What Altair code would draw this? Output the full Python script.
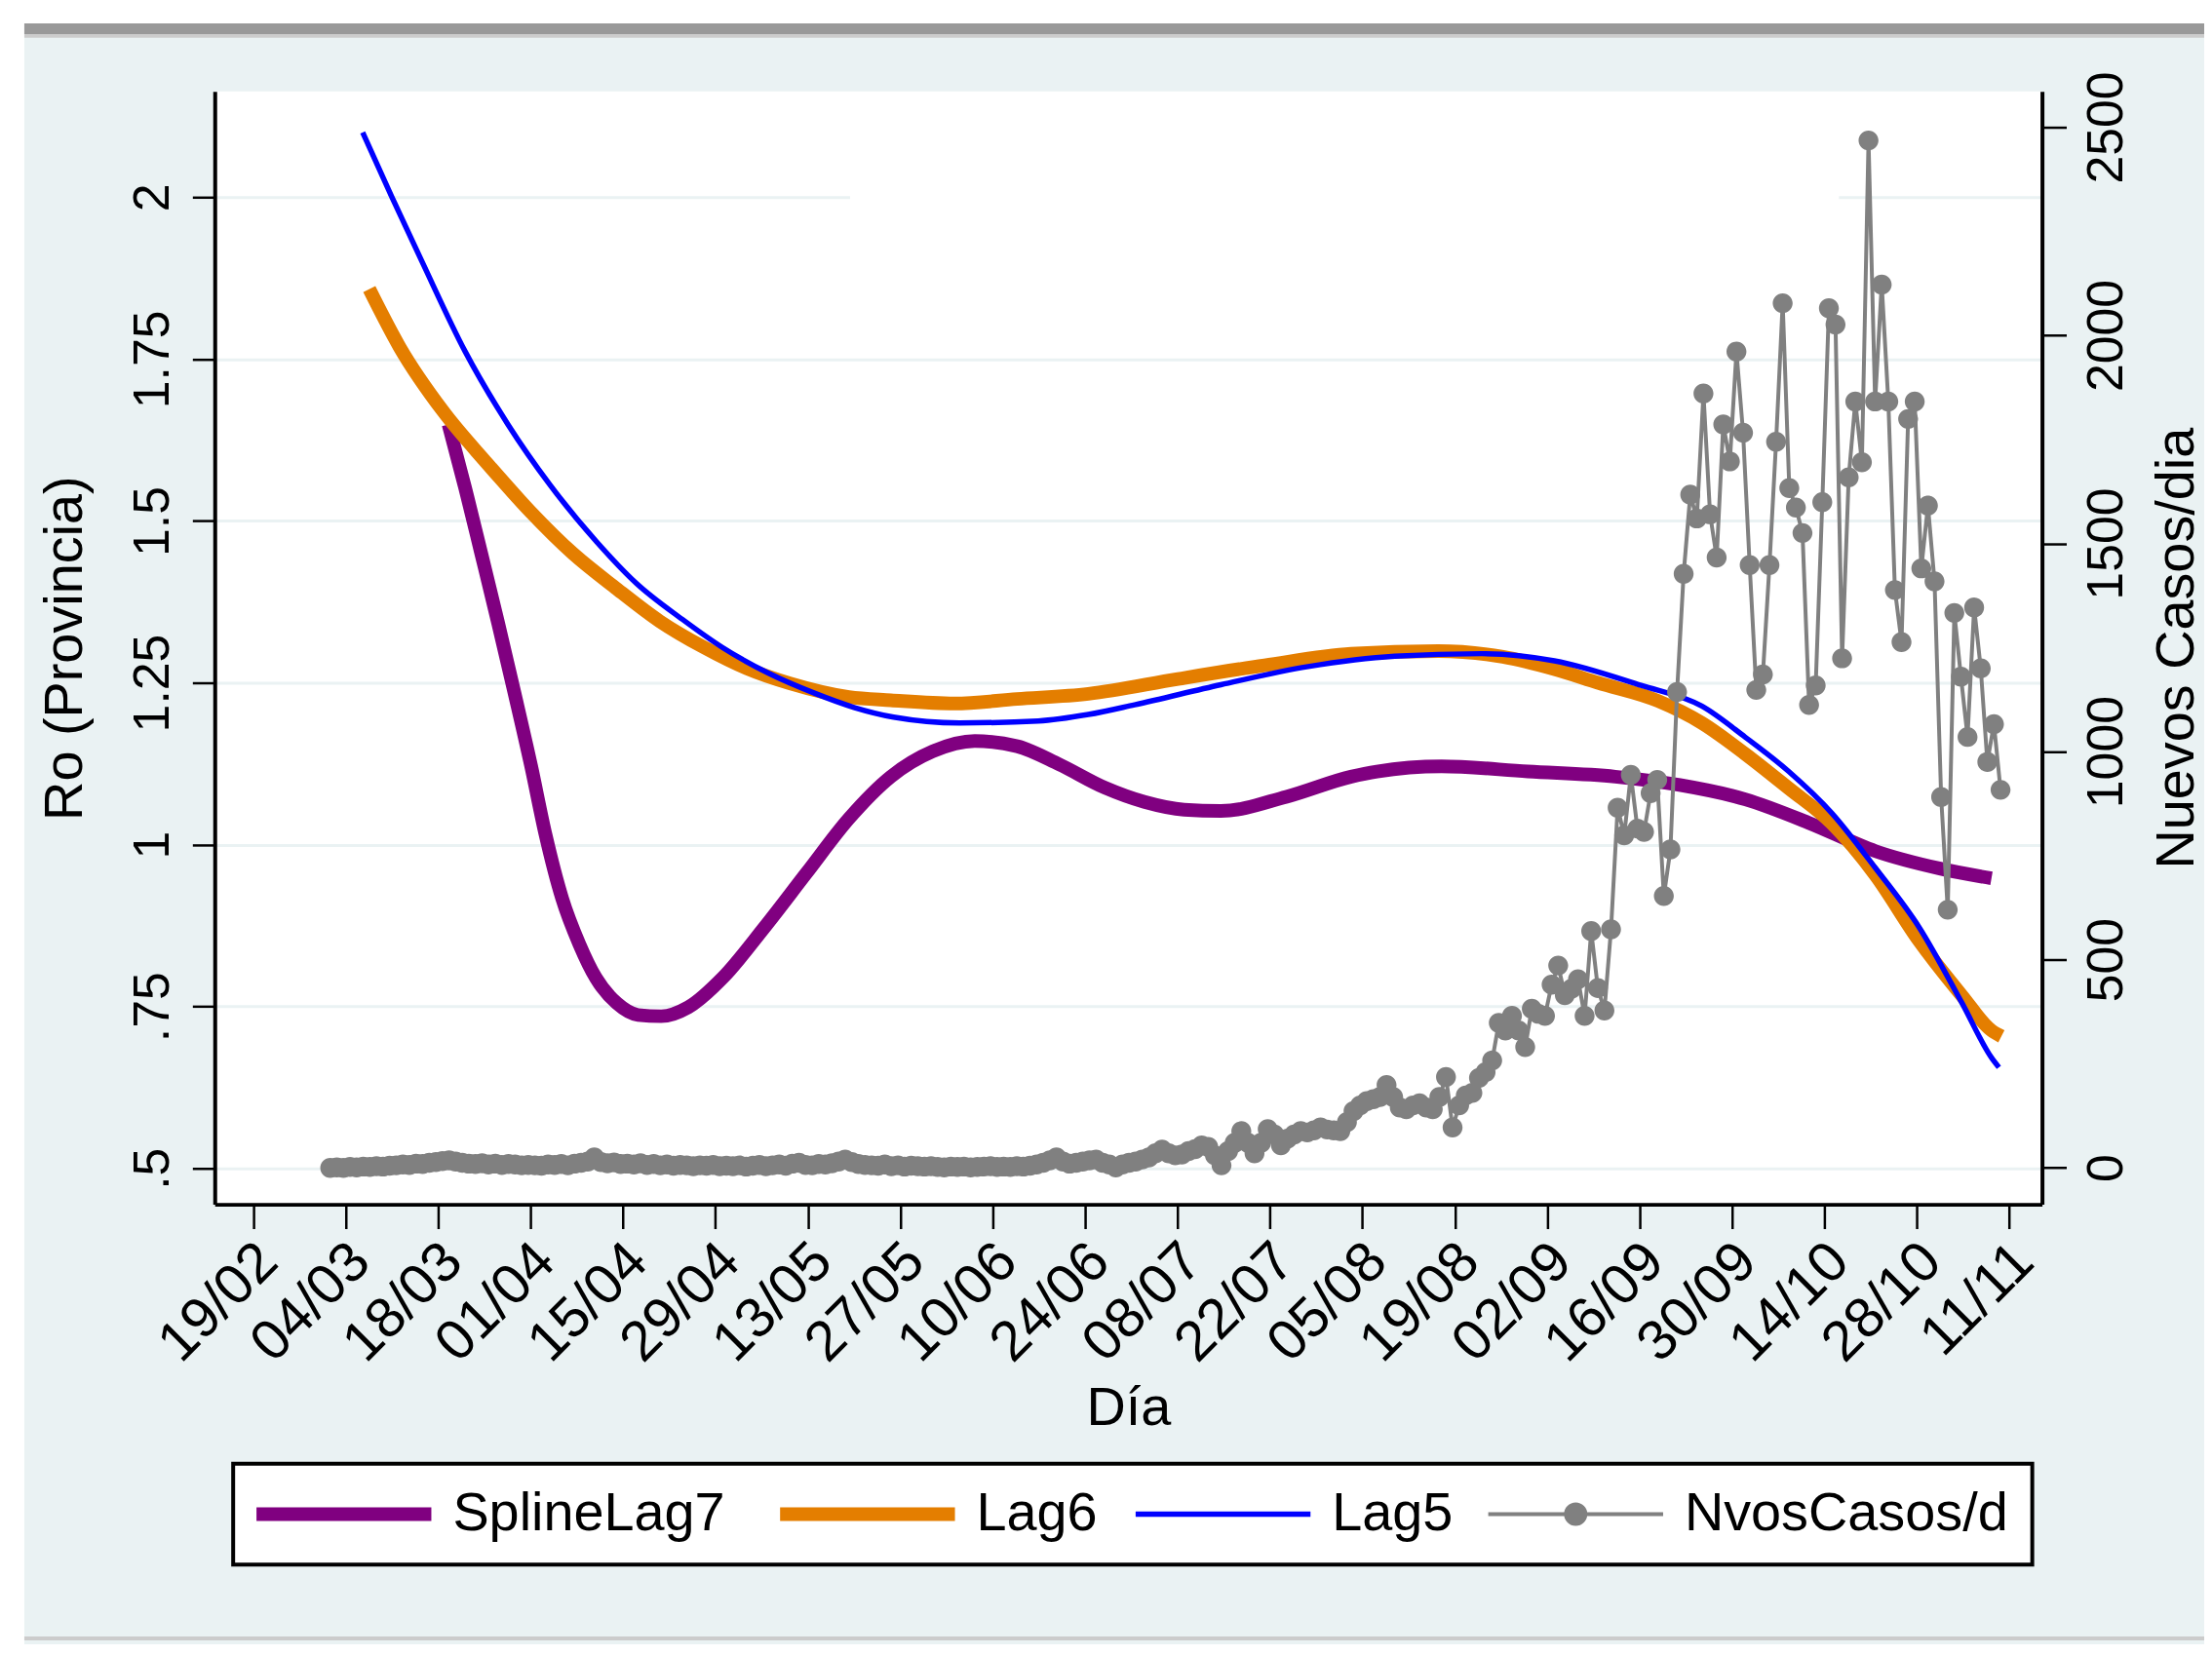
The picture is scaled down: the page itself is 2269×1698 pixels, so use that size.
import altair as alt
import pandas as pd

# ---------------- data ----------------
serie_nombres = ["SplineLag7", "Lag6", "Lag5", "NvosCasos/d"]
serie_colores = ["#800080", "#E47E00", "#0000FF", "#808080"]
serie_grosor = [14, 14, 5.5, 4]

# daily new cases, one value per day starting at casos_inicio
casos_inicio = "2020-03-01T16:00:00"
casos_mar = [0, 1, 0, 2, 1, 3, 2, 4, 3, 5, 6, 8, 7, 10, 9, 12, 14, 16, 18, 15, 12, 10, 9, 11, 8, 10, 7, 9, 8, 6, 7]
casos_abr = [6, 5, 8, 7, 9, 6, 10, 12, 15, 25, 14, 11, 13, 9, 10, 8, 11, 7, 9, 6, 8, 5, 7, 6, 4, 6, 5, 7, 4, 5]
casos_may = [4, 6, 3, 5, 7, 4, 6, 8, 5, 10, 12, 7, 6, 9, 8, 11, 15, 20, 14, 9, 7, 6, 5, 8, 4, 6, 3, 5, 4, 3, 4]
casos_jun = [2, 1, 3, 2, 3, 1, 2, 3, 4, 2, 3, 2, 4, 3, 5, 8, 12, 18, 25, 15, 10, 12, 15, 18, 20, 12, 8, 1, 8, 12]
casos_jul = [15, 20, 25, 35, 44, 35, 30, 32, 40, 45, 54, 50, 30, 6, 40, 60, 88, 60, 35, 60, 93, 80, 54, 70, 80, 88, 85, 90, 97, 92, 90]
casos_ago = [88, 110, 136, 150, 160, 165, 170, 199, 170, 145, 141, 150, 155, 145, 141, 170, 218, 97, 150, 174, 180, 216, 230, 258, 348, 330, 365, 330, 290, 382, 370]
casos_sep = [365, 440, 486, 415, 430, 453, 365, 569, 432, 378, 573, 865, 799, 944, 815, 807, 900, 932, 653, 765, 1143, 1427, 1617, 1560, 1860, 1570, 1466, 1786, 1697, 1961]
casos_oct = [1766, 1448, 1148, 1185, 1448, 1744, 2077, 1633, 1586, 1525, 1112, 1159, 1599, 2065, 2026, 1224, 1659, 1841, 1695, 2468, 1841, 2122, 1841, 1388, 1263, 1799, 1841, 1440, 1591, 1409, 891]
casos_nov = [620, 1333, 1180, 1035, 1346, 1200, 975, 1066, 908]

lag5_fechas = ["2020-03-06T14", "2020-03-10T22", "2020-03-15T12", "2020-03-22T02", "2020-03-28T14", "2020-04-04T00",
               "2020-04-11T00", "2020-04-17T00", "2020-04-24T00", "2020-04-30T00", "2020-05-07T00", "2020-05-14T00",
               "2020-05-20T00", "2020-05-26T00", "2020-06-05T00", "2020-06-16T22", "2020-06-24T12", "2020-07-01T12",
               "2020-07-14T14", "2020-07-27T19", "2020-08-09T22", "2020-08-23T02", "2020-09-03T02", "2020-09-16T05",
               "2020-09-25T10", "2020-10-02T00", "2020-10-08T14", "2020-10-15T02", "2020-10-21T17", "2020-10-28T07",
               "2020-11-03T19", "2020-11-08T07", "2020-11-09T10"]
lag5_ro = [2.100, 2.002, 1.902, 1.762, 1.649, 1.555, 1.468, 1.404, 1.348, 1.305, 1.265, 1.234, 1.212, 1.197,
           1.188, 1.191, 1.201, 1.216, 1.247, 1.275, 1.291, 1.295, 1.284, 1.246, 1.214, 1.166, 1.113, 1.049,
           0.964, 0.873, 0.756, 0.671, 0.656]

lag6_fechas = ["2020-03-07T14", "2020-03-12T05", "2020-03-18T19", "2020-03-25T10", "2020-03-31T22", "2020-04-07T12",
               "2020-04-14T02", "2020-04-20T14", "2020-04-27T05", "2020-05-03T19", "2020-05-10T07", "2020-05-19T05",
               "2020-05-25T14", "2020-06-04T05", "2020-06-13T17", "2020-06-24T12", "2020-07-08T02",
               "2020-07-21T05", "2020-08-03T07", "2020-08-16T12", "2020-08-26T07", "2020-09-03T02", "2020-09-09T17",
               "2020-09-18T19", "2020-09-25T10", "2020-10-02T00", "2020-10-08T14", "2020-10-15T02", "2020-10-21T17",
               "2020-10-28T07", "2020-11-03T19", "2020-11-08T07", "2020-11-09T19"]
lag6_ro = [1.858, 1.768, 1.669, 1.589, 1.515, 1.449, 1.395, 1.345, 1.305, 1.272, 1.249, 1.228, 1.223,
           1.218, 1.225, 1.233, 1.256, 1.277, 1.295, 1.299, 1.290, 1.271, 1.250, 1.222, 1.188, 1.140, 1.087,
           1.033, 0.953, 0.852, 0.767, 0.713, 0.704]

spline7_fechas = ["2020-03-19T14", "2020-03-22T02", "2020-03-24T14", "2020-03-27T02", "2020-03-29T14", "2020-04-01T02",
                  "2020-04-03T07", "2020-04-05T19", "2020-04-08T10", "2020-04-10T22", "2020-04-14T02", "2020-04-17T07",
                  "2020-04-20T19", "2020-04-24T22", "2020-04-30T02", "2020-05-06T10", "2020-05-12T19", "2020-05-19T05",
                  "2020-05-25T14", "2020-05-31T22", "2020-06-07T07", "2020-06-13T17", "2020-06-20T02", "2020-06-27T00",
                  "2020-07-03T00", "2020-07-09T00", "2020-07-14T14", "2020-07-24T12", "2020-08-03T07", "2020-08-07T05",
                  "2020-08-17T00", "2020-08-30T02", "2020-09-12T07", "2020-09-22T02", "2020-10-02T00", "2020-10-11T19",
                  "2020-10-21T17", "2020-10-31T12", "2020-11-08T07"]
spline7_ro = [1.649, 1.552, 1.448, 1.343, 1.234, 1.122, 1.015, 0.917, 0.846, 0.794, 0.755, 0.737, 0.735, 0.749,
              0.794, 0.872, 0.956, 1.040, 1.105, 1.144, 1.160, 1.152, 1.124, 1.088, 1.066, 1.054, 1.052, 1.074,
              1.105, 1.113, 1.121, 1.113, 1.105, 1.092, 1.070, 1.033, 0.990, 0.963, 0.948]

tick_fechas = ["2020-02-19", "2020-03-04", "2020-03-18", "2020-04-01", "2020-04-15", "2020-04-29", "2020-05-13",
               "2020-05-27", "2020-06-10", "2020-06-24", "2020-07-08", "2020-07-22", "2020-08-05", "2020-08-19",
               "2020-09-02", "2020-09-16", "2020-09-30", "2020-10-14", "2020-10-28", "2020-11-11"]
ro_ticks = [0.5, 0.75, 1, 1.25, 1.5, 1.75, 2]
casos_ticks = [0, 500, 1000, 1500, 2000, 2500]


def ms(s):
    return int(pd.Timestamp(s, tz="UTC").value // 10**6)


DAY = 86400000
nvos = casos_mar + casos_abr + casos_may + casos_jun + casos_jul + casos_ago + casos_sep + casos_oct + casos_nov
df_casos = pd.DataFrame({"t": [ms(casos_inicio) + i * DAY for i in range(len(nvos))],
                         "casos": nvos, "serie": "NvosCasos/d"})


def curva(fechas, vals, nombre):
    return pd.DataFrame({"t": [ms(f) for f in fechas], "ro": vals, "serie": nombre})


df_s7 = curva(spline7_fechas, spline7_ro, "SplineLag7")
df_l6 = curva(lag6_fechas, lag6_ro, "Lag6")
df_l5 = curva(lag5_fechas, lag5_ro, "Lag5")

# ---------------- styling ----------------
FONT = "Liberation Sans, Arial, sans-serif"
W, H = 1881, 1146
x_dom = [ms("2020-02-19") - int(5.83 * DAY), ms("2020-11-11") + int(4.94 * DAY)]

x_enc = alt.X("t:T", title="Día",
              scale=alt.Scale(type="utc", domain=x_dom, nice=False),
              axis=alt.Axis(values=[ms(f) for f in tick_fechas],
                            labelExpr="utcFormat(datum.value, '%d/%m')", labelOverlap=False,
                            labelAngle=315, labelAlign="right", labelBaseline="top", labelPadding=4,
                            labelOffset=-5, labelFontSize=58, tickSize=25, grid=False,
                            titleX=W / 2, titleY=210, titleAlign="center", titleBaseline="middle"))

ro_enc = alt.Y("ro:Q", title="Ro (Provincia)",
               scale=alt.Scale(domain=[0.4445, 2.1635], nice=False, zero=False),
               axis=alt.Axis(orient="left", values=ro_ticks,
                             labelExpr="datum.value < 1 ? replace(toString(datum.value), '0.', '.') : toString(datum.value)",
                             labelAngle=270, labelAlign="center", labelBaseline="alphabetic", labelPadding=25,
                             labelFontSize=52, tickSize=23, grid=True, gridColor="#EAF2F3", gridWidth=3,
                             titleAngle=270, titleX=-154, titleY=H / 2, titleAlign="center",
                             titleBaseline="middle"))

casos_enc = alt.Y("casos:Q", title="Nuevos Casos/dia",
                  scale=alt.Scale(domain=[-87.7, 2586.1], nice=False, zero=False),
                  axis=alt.Axis(orient="right", values=casos_ticks, format="d",
                                labelAngle=270, labelAlign="center", labelBaseline="top", labelPadding=16,
                                labelFontSize=52, tickSize=25, grid=False,
                                titleAngle=270, titleX=138, titleY=H / 2, titleAlign="center",
                                titleBaseline="middle"))

legend = alt.Legend(
    orient="none", legendX=19, legendY=1413, direction="horizontal", title=None,
    symbolSize=400, symbolOffset=62, labelFontSize=56, labelFont=FONT, labelColor="black", labelLimit=800,
    labelOffset=84, columnPadding=28, padding=24, fillColor="white", strokeColor="black",
    symbolFillColor="#808080", symbolOpacity=1,
)
LINEA = "M-9,0H9"
LINEA_PUNTO = "M-9,0H9M0,-1A1,1,0,1,1,0,1A1,1,0,1,1,0,-1"
color_enc = alt.Color("serie:N", scale=alt.Scale(domain=serie_nombres, range=serie_colores), legend=legend)
grosor_enc = alt.StrokeWidth("serie:N", scale=alt.Scale(type="ordinal", domain=serie_nombres, range=serie_grosor),
                             legend=legend)
forma_enc = alt.Shape("serie:N", scale=alt.Scale(domain=serie_nombres, range=[LINEA, LINEA, LINEA, LINEA_PUNTO]),
                      legend=legend)


# ---------------- layers ----------------
def linea(df):
    return alt.Chart(df).mark_line(interpolate="monotone").encode(
        x=x_enc, y=ro_enc, color=color_enc, strokeWidth=grosor_enc)


curvas = alt.layer(linea(df_s7), linea(df_l6), linea(df_l5))

casos_linea = alt.Chart(df_casos).mark_line().encode(
    x=x_enc, y=casos_enc, color=color_enc, strokeWidth=grosor_enc)
casos_pts = alt.Chart(df_casos).mark_point(filled=True, size=420, opacity=1).encode(
    x=x_enc, y=casos_enc, color=color_enc, shape=forma_enc)
casos = alt.layer(casos_linea, casos_pts)

one = pd.DataFrame({"k": [0]})


def banda(x1, x2, y1, y2, col):
    return alt.Chart(one).mark_rect(color=col).encode(
        x=alt.value(x1), x2=alt.value(x2), y=alt.value(y1), y2=alt.value(y2))


deco = alt.layer(
    banda(-230, 2100, -100, -70, "white"),
    banda(-230, -196, -100, 1610, "white"),
    banda(-196, 2100, -70, -59, "#999999"),
    banda(-196, 2100, -59, -55, "#CCCCCC"),
    banda(-196, 2100, 1591, 1595, "#CCCCCC"),
    # gap in the top gridline, as in the original export
    banda(654, 1672, 106, 112, "white"),
)

chart = alt.layer(deco, curvas, casos).resolve_scale(y="independent").properties(
    width=W, height=H,
    autosize=alt.AutoSizeParams(type="none"),
    padding={"left": 213, "top": 83, "right": 167, "bottom": 450},
    background="#EAF2F3",
).configure_view(stroke=None, fill="white").configure_axis(
    domainColor="black", domainWidth=4, tickColor="black", tickWidth=2.5,
    labelFont=FONT, labelColor="black", titleFont=FONT, titleFontSize=56, titleFontWeight="normal",
    titleColor="black",
).configure_legend(strokeWidth=4)

chart.save("out.html", embed_options={"renderer": "svg", "actions": False})
